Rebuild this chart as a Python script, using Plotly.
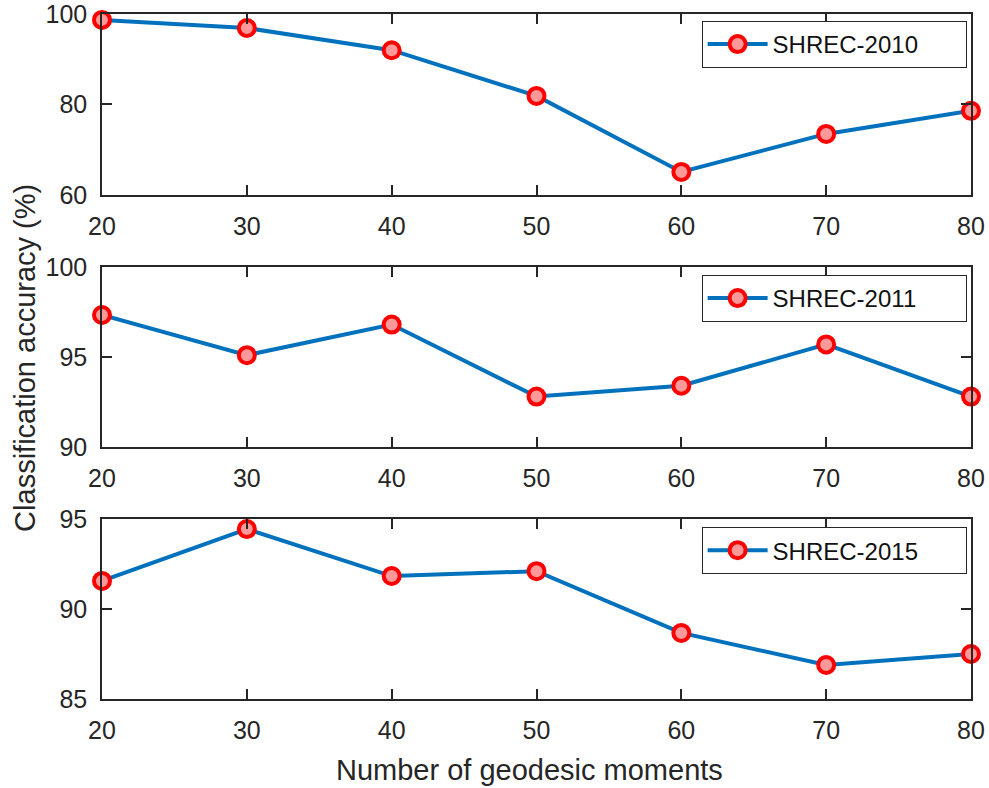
import plotly.graph_objects as go
from plotly.subplots import make_subplots

moments = [20, 30, 40, 50, 60, 70, 80]
shrec2010 = [98.7, 96.9, 92.0, 81.9, 65.1, 73.5, 78.6]
shrec2011 = [97.33, 95.1, 96.8, 92.8, 93.4, 95.7, 92.8]
shrec2015 = [91.56, 94.44, 91.83, 92.1, 88.67, 86.89, 87.5]
names = ["SHREC-2010", "SHREC-2011", "SHREC-2015"]
series = [shrec2010, shrec2011, shrec2015]
yranges = [[60, 100], [90, 100], [85, 95]]
yticks = [[60, 80, 100], [90, 95, 100], [85, 90, 95]]

LINE = "#0072BD"
AX = "#262626"
FONT = "Liberation Sans, Arial, Helvetica, sans-serif"

fig = make_subplots(rows=3, cols=1, vertical_spacing=0.1)
domains = [[0.7358, 1.0], [0.3679, 0.6307], [0.0, 0.2628]]
legend_y = [0.9898, 0.619, 0.251]
legend_keys = ["legend", "legend2", "legend3"]

for i, (nm, ys) in enumerate(zip(names, series)):
    kw = {} if i == 0 else {"legend": legend_keys[i]}
    fig.add_trace(go.Scatter(
        x=moments, y=ys, name=nm, mode="lines+markers",
        line=dict(color=LINE, width=4),
        marker=dict(size=16, color="#FF9999", line=dict(color="#FF0000", width=4)),
        cliponaxis=False, showlegend=True, **kw,
    ), row=i + 1, col=1)

layout = dict(
    width=989, height=788,
    margin=dict(l=102, r=18, t=14, b=89, autoexpand=False),
    paper_bgcolor="white", plot_bgcolor="white",
    font=dict(family=FONT, size=24, color=AX),
    showlegend=True,
)
for i in range(3):
    layout[legend_keys[i]] = dict(
        x=0.690, y=legend_y[i], xanchor="left", yanchor="top",
        orientation="h", entrywidth=188, entrywidthmode="pixels",
        itemwidth=60,
        bgcolor="white", bordercolor=AX, borderwidth=1,
        font=dict(family=FONT, size=24, color="#111111"),
    )
fig.update_layout(**layout)

for i in range(3):
    ax = "" if i == 0 else str(i + 1)
    fig.layout["yaxis" + ax].update(
        domain=domains[i], range=yranges[i], tickvals=yticks[i],
        ticks="inside", ticklen=10, tickwidth=1.5, tickcolor=AX,
        showline=True, linecolor=AX, linewidth=1.5, mirror="ticks",
        showgrid=False, zeroline=False, ticklabelstandoff=8,
        automargin=False, ticklabeloverflow="allow",
        tickfont=dict(size=25, family=FONT, color=AX),
    )
    fig.layout["xaxis" + ax].update(
        range=[20, 80], tickvals=moments,
        ticks="inside", ticklen=10, tickwidth=1.5, tickcolor=AX,
        showline=True, linecolor=AX, linewidth=1.5, mirror="ticks",
        showgrid=False, zeroline=False, ticklabelstandoff=8,
        automargin=False, ticklabeloverflow="allow",
        tickfont=dict(size=25, family=FONT, color=AX),
    )

fig.add_annotation(text="Classification accuracy (%)", xref="paper", yref="paper",
                   x=-0.0886, y=0.498, xanchor="center", yanchor="middle",
                   textangle=-90, showarrow=False,
                   font=dict(size=29, family=FONT, color=AX))
fig.add_annotation(text="Number of geodesic moments", xref="paper", yref="paper",
                   x=0.4925, y=-0.1036, xanchor="center", yanchor="middle",
                   showarrow=False, font=dict(size=29, family=FONT, color=AX))

fig.write_html(
    "out.html",
    config={"displayModeBar": False},
    post_script="document.body.style.margin='0';document.body.style.overflow='hidden';",
)
